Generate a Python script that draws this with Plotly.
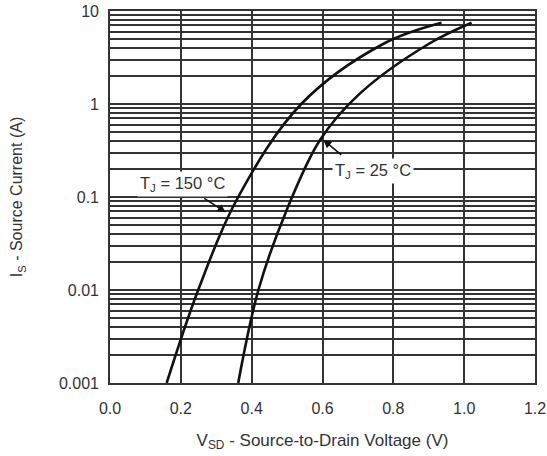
import plotly.graph_objects as go

# Data
v_150 = [0.160, 0.249, 0.362, 0.540, 0.775, 0.936]
i_150 = [0.001, 0.010, 0.100, 1.00, 4.50, 7.48]

v_25 = [0.362, 0.419, 0.499, 0.593, 0.706, 0.903, 1.021]
i_25 = [0.001, 0.010, 0.0724, 0.41, 1.30, 4.50, 7.48]

x_ticks = [0.0, 0.2, 0.4, 0.6, 0.8, 1.0, 1.2]
x_ticklabels = ["0.0", "0.2", "0.4", "0.6", "0.8", "1.0", "1.2"]

decades = [0.001, 0.01, 0.1, 1, 10]
decade_labels = ["0.001", "0.01", "0.1", "1", "10"]

y_gridvals = []
y_gridtext = []
for d, lab in zip(decades, decade_labels):
    if d == 10:
        y_gridvals.append(d)
        y_gridtext.append(lab)
        continue
    for m in range(1, 10):
        y_gridvals.append(d * m)
        y_gridtext.append(lab if m == 1 else "")

LINE = "#111111"
GRID = "#333333"
TXT = "#333333"
FONT = "Liberation Sans, Arial, sans-serif"

fig = go.Figure()
for vx, iy in ((v_150, i_150), (v_25, i_25)):
    fig.add_trace(go.Scatter(x=vx, y=iy, mode="lines",
                             line=dict(color=LINE, width=2.6, shape="spline", smoothing=1.0),
                             showlegend=False, hoverinfo="skip"))

# Labels with white boxes masking the grid
fig.add_annotation(x=0.206, y=-0.86, xref="x", yref="y",
                   text="T<sub>J</sub> = 150 °C", showarrow=False,
                   bgcolor="white", borderpad=2,
                   font=dict(family=FONT, size=16.5, color=TXT))
fig.add_annotation(x=0.742, y=-0.72, xref="x", yref="y",
                   text="T<sub>J</sub> = 25 °C", showarrow=False,
                   bgcolor="white", borderpad=2,
                   font=dict(family=FONT, size=16.5, color=TXT))
# Leader arrows
fig.add_annotation(x=0.327, y=-1.165, xref="x", yref="y",
                   ax=0.262, ay=-1.005, axref="x", ayref="y",
                   text="", showarrow=True, arrowhead=2, arrowsize=1.1,
                   arrowwidth=1.5, arrowcolor=LINE)
fig.add_annotation(x=0.602, y=-0.385, xref="x", yref="y",
                   ax=0.657, ay=-0.56, axref="x", ayref="y",
                   text="", showarrow=True, arrowhead=2, arrowsize=1.1,
                   arrowwidth=1.5, arrowcolor=LINE)

fig.update_layout(
    width=547, height=456,
    margin=dict(l=110, r=12, t=11, b=73, autoexpand=False),
    paper_bgcolor="white", plot_bgcolor="white",
    font=dict(family=FONT, size=16, color=TXT),
    xaxis=dict(range=[0, 1.2], tickvals=x_ticks, ticktext=x_ticklabels,
               automargin=False,
               showgrid=True, gridcolor=GRID, gridwidth=1.6,
               showline=True, linecolor=GRID, linewidth=1.6, mirror=True,
               zeroline=False, ticks="", ticklabelstandoff=10,
               tickfont=dict(family=FONT, size=16, color=TXT),
               title=dict(text="V<sub>SD</sub> - Source-to-Drain Voltage (V)",
                          font=dict(family=FONT, size=17, color=TXT), standoff=18)),
    yaxis=dict(type="log", range=[-3, 1], tickvals=y_gridvals, ticktext=y_gridtext,
               automargin=False,
               showgrid=True, gridcolor=GRID, gridwidth=1.6,
               showline=True, linecolor=GRID, linewidth=1.6, mirror=True,
               zeroline=False, ticks="", ticklabelstandoff=6,
               tickfont=dict(family=FONT, size=16, color=TXT),
               title=dict(text="I<sub>S</sub> - Source Current (A)",
                          font=dict(family=FONT, size=16, color=TXT), standoff=32)),
)

fig.write_html("out.html", config={"displayModeBar": False},
               post_script="document.body.style.margin='0';")
